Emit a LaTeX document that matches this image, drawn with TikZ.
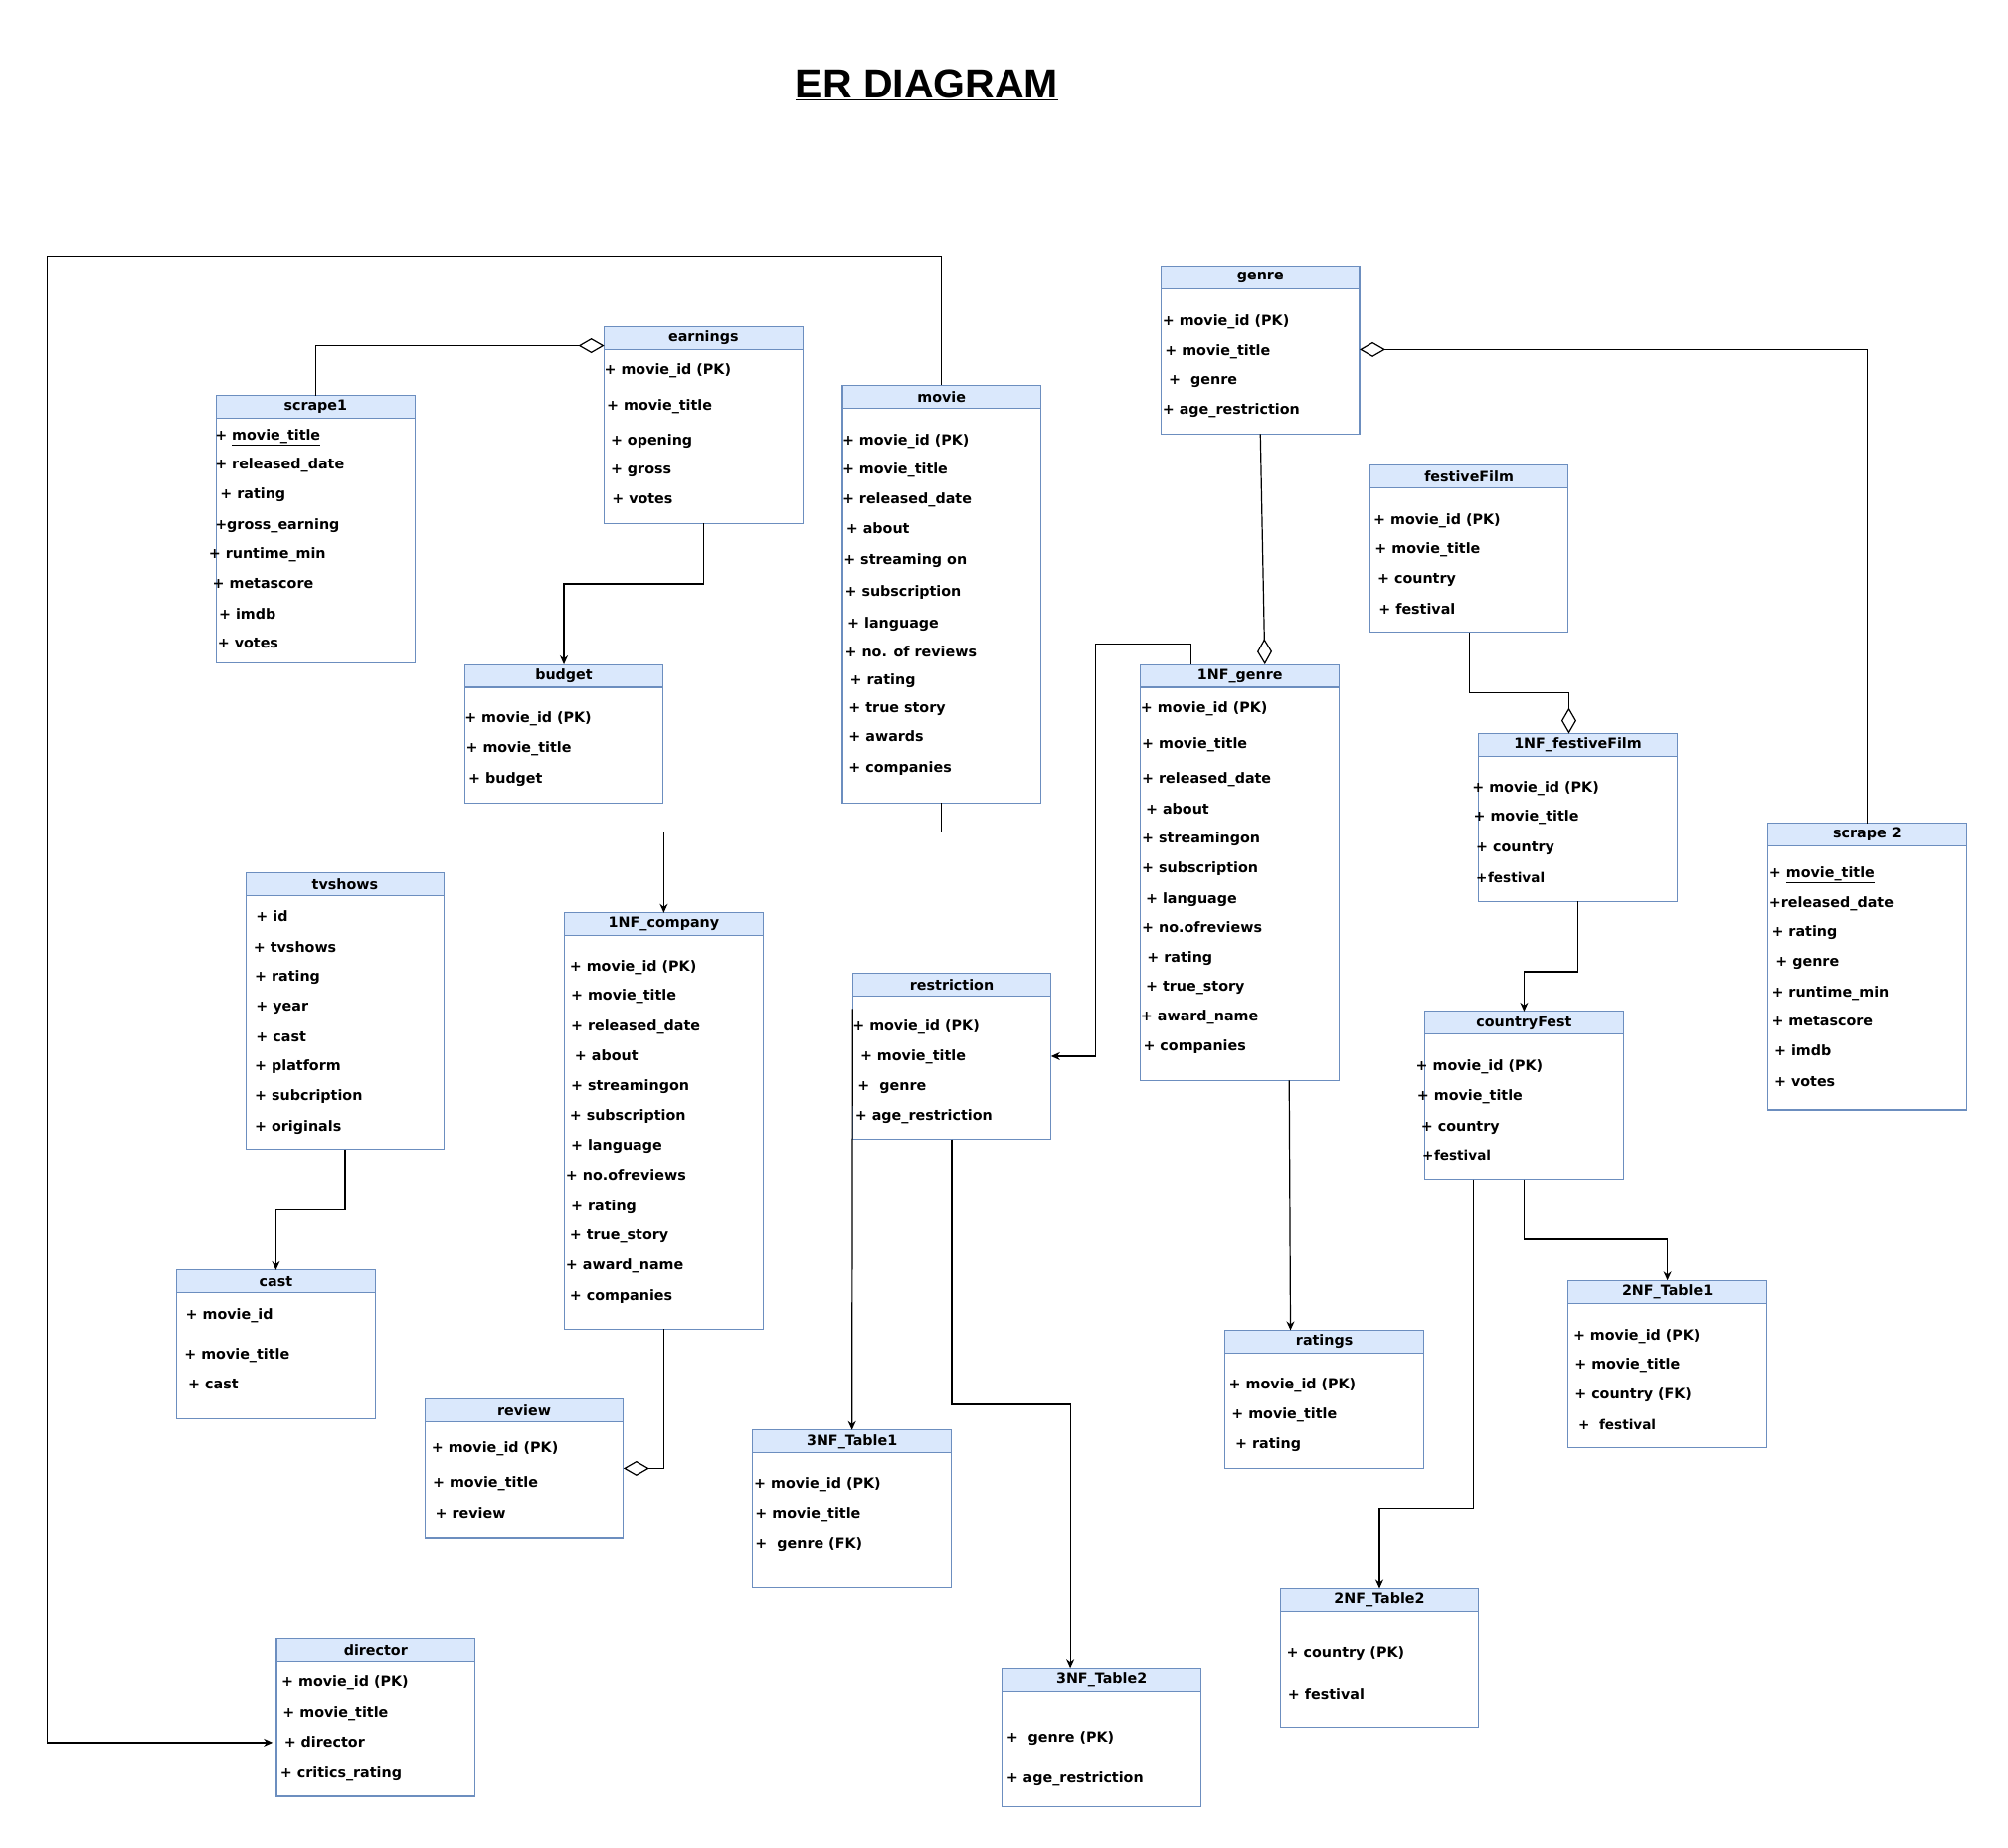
\documentclass[tikz,border=0pt]{standalone}
\usepackage{fontspec}
\setmainfont{DejaVu Sans}
\newfontfamily\titlefont{Liberation Sans}
\usetikzlibrary{arrows.meta,calc}
\definecolor{boxc}{HTML}{6C8EBF}
\definecolor{headc}{HTML}{DAE8FC}
\newcommand\entfont{\fontsize{14.3}{17}\selectfont\bfseries}
\newcommand\fesfont{\fontsize{13.6}{17}\selectfont\bfseries}
\newcounter{rowc}
\newcommand\ent[6]{%
  \node[entbody, minimum width={(#4-#2)*1.2872pt}, minimum height={(#5-#3)*1.2872pt}] (#1) at (#2,#3) {};
  \node[enthead, minimum width={(#4-#2)*1.2872pt}] (#1-h) at (#2,#3) {#6};
}
\newcommand\rw[3]{\stepcounter{rowc}\node[rowt] (r\arabic{rowc}) at (#1,#2+4.5) {#3};}
\begin{document}
\begin{tikzpicture}[x=1.2872pt,y=-1.2872pt,
  entbody/.style={draw=boxc, fill=white, line width=1.1pt, inner sep=0pt, outer sep=0pt, anchor=north west},
  enthead/.style={draw=boxc, fill=headc, line width=1.1pt, inner sep=0pt, outer sep=0pt, anchor=north west, minimum height=17.8*1.2872pt, font=\entfont},
  rowt/.style={anchor=base west, inner sep=0pt, outer sep=0pt, font=\entfont},
  conn/.style={draw=black, line width=1.2pt},
  arr/.style={conn, -{Stealth[length=9pt,width=8pt]}},
  aggend/.style={conn, -{Diamond[open,length=26pt,width=15pt]}},
  aggstart/.style={conn, {Diamond[open,length=26pt,width=15pt]}-},
]
\useasboundingbox (0,0) rectangle (1568.5,1443.4);

\node[font=\titlefont\fontsize{41}{46}\selectfont\bfseries, anchor=base, inner sep=0pt] (title) at (724,76.5) {\underline{ER DIAGRAM}};

% ---------- entities ----------
\ent{s1}{169}{309}{324}{518}{scrape1}
\rw{168}{339}{+ \underline{movie\_title}}
\rw{168}{362}{+ released\_date}
\rw{172}{385}{+ rating}
\rw{168}{409}{+gross\_earning}
\rw{163}{432}{+ runtime\_min}
\rw{166}{455}{+ metascore}
\rw{171}{479}{+ imdb}
\rw{170}{502}{+ votes}

\ent{earn}{472}{255}{627}{409}{earnings}
\rw{472}{288}{+ movie\_id (PK)}
\rw{474}{316}{+ movie\_title}
\rw{477}{343}{+ opening}
\rw{477}{366}{+ gross}
\rw{478}{389}{+ votes}

\ent{movie}{658}{301}{813}{627}{movie}
\rw{658}{343}{+ movie\_id (PK)}
\rw{658}{366}{+ movie\_title}
\rw{658}{389}{+ released\_date}
\rw{661}{412}{+ about}
\rw{659}{436}{+ streaming on}
\rw{660}{461}{+ subscription}
\rw{662}{486}{+ language}
\rw{660}{509}{+ no. of reviews}
\rw{664}{530}{+ rating}
\rw{663}{552}{+ true story}
\rw{663}{575}{+ awards}
\rw{663}{599}{+ companies}

\ent{bud}{363}{519}{518}{627}{budget}
\rw{363}{560}{+ movie\_id (PK)}
\rw{364}{583}{+ movie\_title}
\rw{366}{607}{+ budget}

\ent{genre}{907}{208}{1062}{339}{genre}
\rw{908}{250}{+ movie\_id (PK)}
\rw{910}{273}{+ movie\_title}
\rw{913}{296}{+~~genre}
\rw{908}{319}{+ age\_restriction}

\ent{fest}{1070}{363}{1225}{494}{festiveFilm}
\rw{1073}{405}{+ movie\_id (PK)}
\rw{1074}{428}{+ movie\_title}
\rw{1076}{451}{+ country}
\rw{1077}{475}{+ festival}

\ent{gnf}{891}{519}{1046}{844}{1NF\_genre}
\rw{891}{552}{+ movie\_id (PK)}
\rw{892}{580}{+ movie\_title}
\rw{892}{607}{+ released\_date}
\rw{895}{631}{+ about}
\rw{892}{654}{+ streamingon}
\rw{892}{677}{+ subscription}
\rw{895}{701}{+ language}
\rw{892}{724}{+ no.ofreviews}
\rw{896}{747}{+ rating}
\rw{895}{770}{+ true\_story}
\rw{891}{793}{+ award\_name}
\rw{893}{816}{+ companies}

\ent{fnf}{1155}{573}{1310}{704}{1NF\_festiveFilm}
\rw{1150}{614}{+ movie\_id (PK)}
\rw{1151}{637}{+ movie\_title}
\rw{1153}{661}{+ country}
\rw{1153}{685}{\fesfont+\kern0.5pt festival}

\ent{scr}{1381}{643}{1536}{867}{scrape 2}
\rw{1382}{681}{+ \underline{movie\_title}}
\rw{1382}{704}{+released\_date}
\rw{1384}{727}{+ rating}
\rw{1387}{750}{+ genre}
\rw{1384}{774}{+ runtime\_min}
\rw{1384}{797}{+ metascore}
\rw{1386}{820}{+ imdb}
\rw{1386}{844}{+ votes}

\ent{tv}{192}{682}{347}{898}{tvshows}
\rw{200}{715}{+ id}
\rw{198}{739}{+ tvshows}
\rw{199}{762}{+ rating}
\rw{200}{785}{+ year}
\rw{200}{809}{+ cast}
\rw{199}{832}{+ platform}
\rw{199}{855}{+ subcription}
\rw{199}{879}{+ originals}

\ent{cnf}{441}{713}{596}{1038}{1NF\_company}
\rw{445}{754}{+ movie\_id (PK)}
\rw{446}{777}{+ movie\_title}
\rw{446}{801}{+ released\_date}
\rw{449}{824}{+ about}
\rw{446}{847}{+ streamingon}
\rw{445}{871}{+ subscription}
\rw{446}{894}{+ language}
\rw{442}{917}{+ no.ofreviews}
\rw{446}{941}{+ rating}
\rw{445}{964}{+ true\_story}
\rw{442}{987}{+ award\_name}
\rw{445}{1011}{+ companies}

\ent{restr}{666}{760}{821}{890}{restriction}
\rw{666}{801}{+ movie\_id (PK)}
\rw{672}{824}{+ movie\_title}
\rw{670}{847}{+~~genre}
\rw{668}{871}{+ age\_restriction}

\ent{cf}{1113}{790}{1268}{921}{countryFest}
\rw{1106}{832}{+ movie\_id (PK)}
\rw{1107}{855}{+ movie\_title}
\rw{1110}{879}{+ country}
\rw{1111}{902}{\fesfont+\kern0.5pt festival}

\ent{cast}{138}{992}{293}{1108}{cast}
\rw{145}{1026}{+ movie\_id}
\rw{144}{1057}{+ movie\_title}
\rw{147}{1080}{+ cast}

\ent{rev}{332}{1093}{487}{1201}{review}
\rw{337}{1130}{+ movie\_id (PK)}
\rw{338}{1157}{+ movie\_title}
\rw{340}{1181}{+ review}

\ent{ta}{588}{1117}{743}{1240}{3NF\_Table1}
\rw{589}{1158}{+ movie\_id (PK)}
\rw{590}{1181}{+ movie\_title}
\rw{590}{1205}{+~~genre (FK)}

\ent{rat}{957}{1039}{1112}{1147}{ratings}
\rw{960}{1080}{+ movie\_id (PK)}
\rw{962}{1104}{+ movie\_title}
\rw{965}{1127}{+ rating}

\ent{tc}{1225}{1000}{1380}{1131}{2NF\_Table1}
\rw{1229}{1042}{+ movie\_id (PK)}
\rw{1230}{1065}{+ movie\_title}
\rw{1230}{1088}{+ country (FK)}
\rw{1233}{1112}{\fesfont+~~festival}

\ent{td}{1000}{1241}{1155}{1349}{2NF\_Table2}
\rw{1005}{1290}{+ country (PK)}
\rw{1006}{1323}{+ festival}

\ent{dir}{216}{1280}{371}{1403}{director}
\rw{220}{1313}{+ movie\_id (PK)}
\rw{221}{1337}{+ movie\_title}
\rw{222}{1360}{+ director}
\rw{219}{1384}{+ critics\_rating}

\ent{tb}{783}{1303}{938}{1411}{3NF\_Table2}
\rw{786}{1356}{+~~genre (PK)}
\rw{786}{1388}{+ age\_restriction}

% ---------- connectors ----------
\coordinate (ctl) at (37,200);
\coordinate (cj) at (856,503);

\draw[aggend] (s1-h.north) |- ($(earn-h.north west)+(0,15)$);
\draw[arr] (earn.south) -- ++(0,47) -| (bud-h.north);
\draw[arr] (movie-h.north) |- (ctl) |- ($(dir-h.north west)+(-3,81)$);
\draw[arr] (movie.south) -- ++(0,23) -| (cnf-h.north);
\draw[aggstart] ($(genre.north east)+(0,65)$) -| (scr-h.north);
\draw[aggend] (genre.south) -- ($(gnf-h.north west)+(97,0)$);
\draw[arr] ($(gnf-h.north west)+(39,0)$) |- (cj) |- (restr.east);
\draw[aggend] (fest.south) -- ++(0,47) -| ($(fnf-h.north west)+(70.5,0)$);
\draw[arr] (fnf.south) -- ++(0,55) -| (cf-h.north);
\draw[arr] ($(gnf.south west)+(116,0)$) -- ($(rat-h.north west)+(51,0)$);
\draw[arr] ($(restr.north west)+(0,28)$) -- (ta-h.north);
\draw[arr] (restr.south) -- ++(0,207) -| ($(tb-h.north west)+(53,0)$);
\draw[arr] (tv.south) -- ++(0,47) -| (cast-h.north);
\draw[aggend] (cnf.south) |- (rev.east);
\draw[arr] (cf.south) -- ++(0,47) -| (tc-h.north);
\draw[arr] ($(cf.south west)+(38,0)$) -- ++(0,257) -| (td-h.north);
\end{tikzpicture}
\end{document}
